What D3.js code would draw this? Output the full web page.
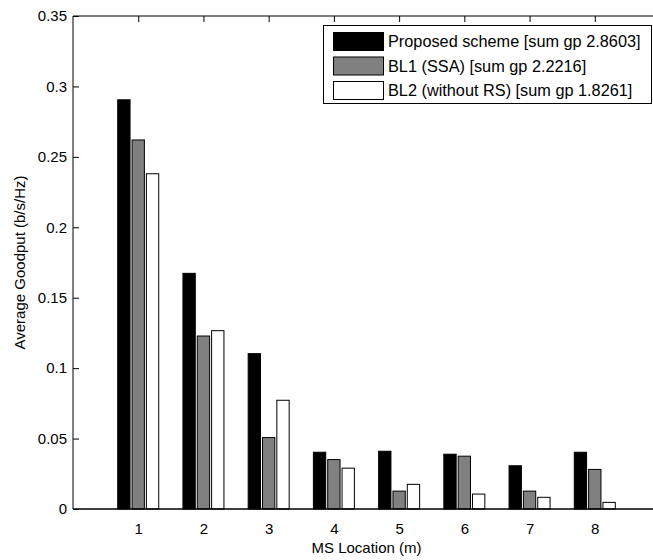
<!DOCTYPE html>
<html>
<head>
<meta charset="utf-8">
<script src="https://cdn.jsdelivr.net/npm/d3@7"></script>
<style>
  html, body { margin: 0; padding: 0; background: #fff; }
  svg { display: block; }
  text { font-family: "Liberation Sans", Arial, Helvetica, sans-serif; fill: #000; }
</style>
</head>
<body>
<svg id="chart" width="653" height="560"></svg>
<script>
// ---- data ----
const categories = [1, 2, 3, 4, 5, 6, 7, 8];
const seriesNames = ["Proposed scheme [sum gp 2.8603]", "BL1 (SSA) [sum gp 2.2216]", "BL2 (without RS) [sum gp 1.8261]"];
const proposed = [0.2905, 0.1673, 0.1103, 0.0403, 0.0410, 0.0389, 0.0307, 0.0403];
const bl1      = [0.2620, 0.1228, 0.0507, 0.0351, 0.0127, 0.0375, 0.0127, 0.0281];
const bl2      = [0.2380, 0.1266, 0.0772, 0.0290, 0.0175, 0.0106, 0.0083, 0.0047];
const yTicks = [0, 0.05, 0.1, 0.15, 0.2, 0.25, 0.3, 0.35];
const yTickLabels = ["0", "0.05", "0.1", "0.15", "0.2", "0.25", "0.3", "0.35"];
const seriesFill = ["#000000", "#808080", "#ffffff"];

const seriesValues = [proposed, bl1, bl2];

// ---- layout ----
const svg = d3.select("#chart");
const mLeft = 73, mRight = 660, mTop = 16, mBottom = 509;

const x = d3.scaleLinear().domain([0, 9]).range([mLeft, mRight]);
const y = d3.scaleLinear().domain([0, 0.35]).range([mBottom, mTop]);
const sub = d3.scaleBand().domain(d3.range(seriesNames.length)).range([-20.5, 20.5]).paddingInner(0.14);

// background
svg.append("rect").attr("x", 0).attr("y", 0).attr("width", 653).attr("height", 560).attr("fill", "#fff");

// bottom ticks (under bars)
const gBottom = svg.append("g").attr("transform", `translate(0,${mBottom})`)
  .call(d3.axisBottom(x).tickValues(categories).tickSize(-6).tickFormat(d => d).tickPadding(14));
gBottom.select(".domain").remove();
gBottom.selectAll("line").attr("stroke", "#000");
gBottom.selectAll("text").attr("font-size", 15).attr("font-family", "Liberation Sans, Arial, sans-serif").attr("fill", "#000");

// bars
const rows = [];
seriesValues.forEach((vals, s) => {
  vals.forEach((v, i) => rows.push({ s, c: categories[i], v }));
});
svg.append("g").selectAll("rect").data(rows).join("rect")
  .attr("x", d => x(d.c) + sub(d.s))
  .attr("width", sub.bandwidth())
  .attr("y", d => y(d.v))
  .attr("height", d => y(0) - y(d.v))
  .attr("fill", d => seriesFill[d.s])
  .attr("stroke", "#000")
  .attr("stroke-width", 1);

// left axis
const gLeft = svg.append("g").attr("transform", `translate(${mLeft},0)`)
  .call(d3.axisLeft(y).tickValues(yTicks).tickSize(-6).tickPadding(6).tickFormat((d, i) => yTickLabels[i]));
gLeft.select(".domain").remove();
gLeft.selectAll("line").attr("stroke", "#000");
gLeft.selectAll("text").attr("font-size", 15).attr("font-family", "Liberation Sans, Arial, sans-serif").attr("fill", "#000");

// top axis ticks
const gTop = svg.append("g").attr("transform", `translate(0,${mTop})`)
  .call(d3.axisTop(x).tickValues(categories).tickSize(-6).tickFormat(""));
gTop.select(".domain").remove();
gTop.selectAll("line").attr("stroke", "#000");

// axes box
svg.append("line").attr("x1", mLeft).attr("x2", mRight).attr("y1", mBottom).attr("y2", mBottom).attr("stroke", "#000").attr("stroke-width", 1.5);
svg.append("line").attr("x1", mLeft).attr("x2", mRight).attr("y1", mTop).attr("y2", mTop).attr("stroke", "#000").attr("stroke-width", 1);
svg.append("line").attr("x1", mLeft).attr("x2", mLeft).attr("y1", mTop).attr("y2", mBottom).attr("stroke", "#000").attr("stroke-width", 1);
svg.append("line").attr("x1", mRight).attr("x2", mRight).attr("y1", mTop).attr("y2", mBottom).attr("stroke", "#000").attr("stroke-width", 1);

// axis titles
svg.append("text").attr("x", (mLeft + mRight) / 2).attr("y", 553).attr("text-anchor", "middle")
  .attr("font-size", 15).text("MS Location (m)");
svg.append("text").attr("transform", `translate(25,${(mTop + mBottom) / 2}) rotate(-90)`).attr("text-anchor", "middle")
  .attr("font-size", 15).text("Average Goodput (b/s/Hz)");

// legend
const lg = svg.append("g");
lg.append("rect").attr("x", 323.5).attr("y", 25.5).attr("width", 328).attr("height", 78)
  .attr("fill", "#fff").attr("stroke", "#000").attr("stroke-width", 1);
seriesNames.forEach((name, i) => {
  const yy = 32 + i * 24.5;
  lg.append("rect").attr("x", 333.5).attr("y", yy + 0.5).attr("width", 50).attr("height", 18)
    .attr("fill", seriesFill[i]).attr("stroke", "#000").attr("stroke-width", 1);
  lg.append("text").attr("x", 388).attr("y", yy + 15).attr("font-size", 16.3).text(name);
});
</script>
</body>
</html>
